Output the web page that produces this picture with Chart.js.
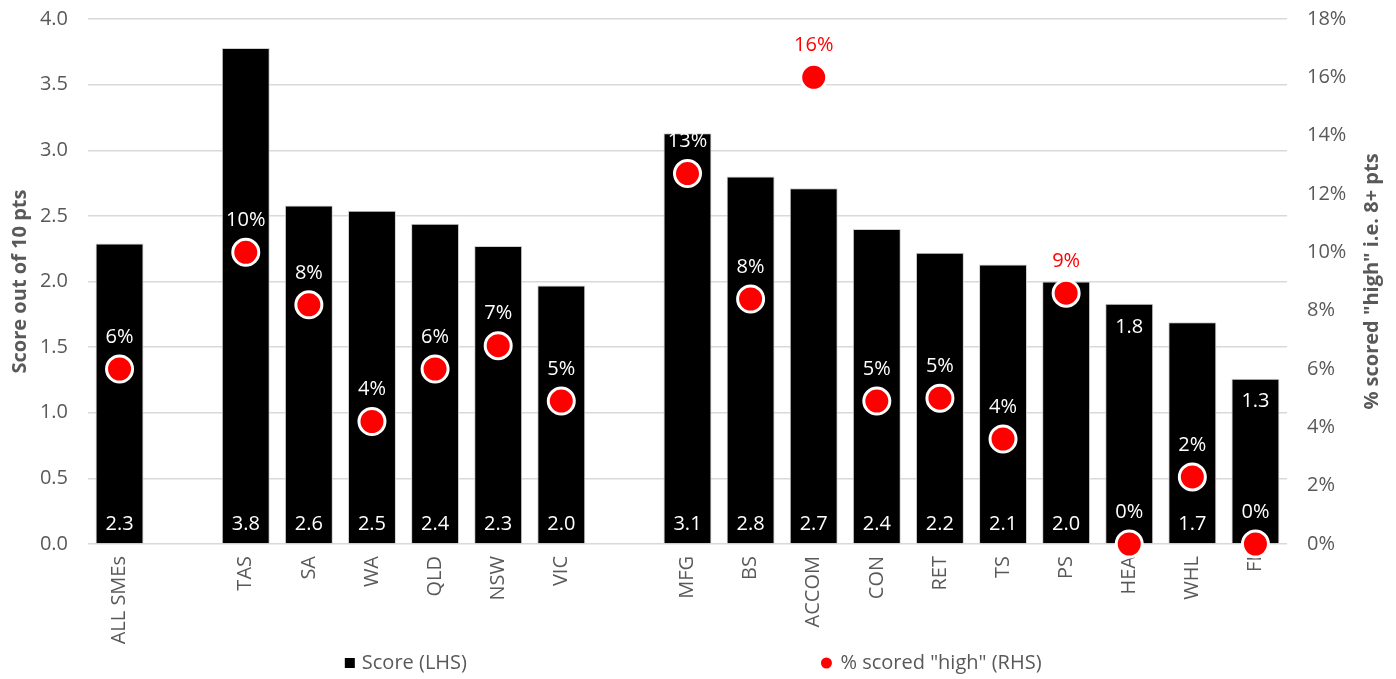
<!DOCTYPE html>
<html>
<head>
<meta charset="utf-8">
<script src="https://cdn.jsdelivr.net/npm/chart.js@4.4.1/dist/chart.umd.min.js"></script>
<style>
  html, body { margin: 0; padding: 0; background: #fff; }
  #wrap { width: 1396px; height: 679px; }
</style>
</head>
<body>
<div id="wrap"><canvas id="scoreChart"></canvas></div>
<script>
// categories ("" = spacer columns between groups)
const categories = ["ALL SMEs", "", "TAS", "SA", "WA", "QLD", "NSW", "VIC", "",
  "MFG", "BS", "ACCOM", "CON", "RET", "TS", "PS", "HEA", "WHL", "FI"];

// score out of 10 (LHS)
const scores = [2.29, null, 3.78, 2.58, 2.54, 2.44, 2.27, 1.97, null,
  3.13, 2.80, 2.71, 2.40, 2.22, 2.13, 2.00, 1.83, 1.69, 1.26];

// % scored "high" (RHS)
const pctHigh = [6.0, null, 10.0, 8.2, 4.2, 6.0, 6.8, 4.9, null,
  12.7, 8.4, 16.0, 4.9, 5.0, 3.6, 8.6, 0, 2.3, 0];

const leftTitle = "Score out of 10 pts";
const rightTitle = '% scored "high" i.e. 8+ pts';

const FONT = '"Open Sans", "DejaVu Sans", sans-serif';
const GREY = "#595959";

// data labels, axis titles and legend
const drawExtras = {
  id: "drawExtras",
  afterDatasetsDraw(chart) {
    const ctx = chart.ctx;
    const barMeta = chart.getDatasetMeta(0);
    const dotMeta = chart.getDatasetMeta(1);
    ctx.save();
    ctx.font = "20px " + FONT;
    ctx.textAlign = "center";
    ctx.textBaseline = "middle";

    // bar values: at the base, or at the top when the dot sits on the base
    scores.forEach((v, i) => {
      if (v == null) return;
      const bar = barMeta.data[i];
      const ty = pctHigh[i] === 0 ? bar.y + 23 : bar.base - 19;
      ctx.fillStyle = "#fff";
      ctx.fillText(v.toFixed(1), bar.x, ty);
    });

    // dot values: white on the bar, red when above it
    pctHigh.forEach((v, i) => {
      if (v == null) return;
      const pt = dotMeta.data[i];
      const ty = pt.y - 32;
      ctx.fillStyle = ty < barMeta.data[i].y ? "#ff0000" : "#fff";
      ctx.fillText(Math.round(v) + "%", pt.x, ty);
    });
    ctx.restore();
  },
  afterDraw(chart) {
    const ctx = chart.ctx;
    const area = chart.chartArea;
    const midY = (area.top + area.bottom) / 2;
    ctx.save();
    ctx.fillStyle = GREY;
    ctx.font = "bold 20px " + FONT;
    ctx.textAlign = "center";
    ctx.textBaseline = "middle";

    ctx.save();
    ctx.translate(20, midY);
    ctx.rotate(-Math.PI / 2);
    ctx.fillText(leftTitle, 0, 0);
    ctx.restore();

    ctx.save();
    ctx.translate(chart.width - 24, midY);
    ctx.rotate(-Math.PI / 2);
    ctx.fillText(rightTitle, 0, 0);
    ctx.restore();

    // legend
    const ly = chart.height - 16;
    ctx.font = "20px " + FONT;
    ctx.textAlign = "left";
    ctx.fillStyle = "#000";
    const x0 = chart.width * 0.247;
    ctx.fillRect(x0, ly - 5, 10, 10);
    ctx.fillStyle = GREY;
    ctx.fillText(chart.data.datasets[0].label, x0 + 17, ly);

    const x1 = chart.width * 0.592;
    ctx.fillStyle = "#ff0000";
    ctx.beginPath();
    ctx.arc(x1, ly, 5.5, 0, Math.PI * 2);
    ctx.fill();
    ctx.fillStyle = GREY;
    ctx.fillText(chart.data.datasets[1].label, x1 + 14, ly);
    ctx.restore();
  }
};

const ctx = document.getElementById("scoreChart").getContext("2d");

new Chart(ctx, {
  data: {
    labels: categories,
    datasets: [
      {
        type: "bar",
        label: "Score (LHS)",
        data: scores,
        yAxisID: "y",
        backgroundColor: "#000000",
        borderColor: "#d0d0d0",
        borderWidth: 1,
        barPercentage: 0.76,
        categoryPercentage: 1.0,
        order: 1
      },
      {
        type: "line",
        label: '% scored "high" (RHS)',
        data: pctHigh,
        yAxisID: "y1",
        showLine: false,
        clip: false,
        pointRadius: 13,
        pointHoverRadius: 13,
        pointBackgroundColor: "#ff0000",
        pointBorderColor: "#ffffff",
        pointBorderWidth: 3,
        order: 0
      }
    ]
  },
  options: {
    responsive: true,
    maintainAspectRatio: false,
    animation: false,
    layout: { autoPadding: false, padding: { top: 19, bottom: 30, left: 0, right: 0 } },
    plugins: {
      legend: { display: false },
      tooltip: { enabled: false }
    },
    scales: {
      x: {
        grid: { display: false, drawTicks: false },
        border: { display: false },
        ticks: {
          autoSkip: false,
          minRotation: 90,
          maxRotation: 90,
          padding: 12,
          color: GREY,
          font: { family: FONT, size: 20 }
        },
        afterFit(scale) { scale.height = 105; }
      },
      y: {
        position: "left",
        min: 0,
        max: 4,
        grid: { color: "#d9d9d9", lineWidth: 1.5, drawTicks: false },
        border: { display: false },
        ticks: {
          stepSize: 0.5,
          padding: 20,
          color: GREY,
          font: { family: FONT, size: 20 },
          callback: (v) => v.toFixed(1)
        },
        afterFit(scale) {
          scale.width = 88;
          scale.paddingTop = 0;
          scale.paddingBottom = 0;
        }
      },
      y1: {
        position: "right",
        min: 0,
        max: 18,
        grid: { display: false, drawTicks: false },
        border: { display: false },
        ticks: {
          stepSize: 2,
          padding: 20,
          color: GREY,
          font: { family: FONT, size: 20 },
          callback: (v) => v + "%"
        },
        afterFit(scale) {
          scale.width = 109;
          scale.paddingTop = 0;
          scale.paddingBottom = 0;
        }
      }
    }
  },
  plugins: [drawExtras]
});
</script>
</body>
</html>
